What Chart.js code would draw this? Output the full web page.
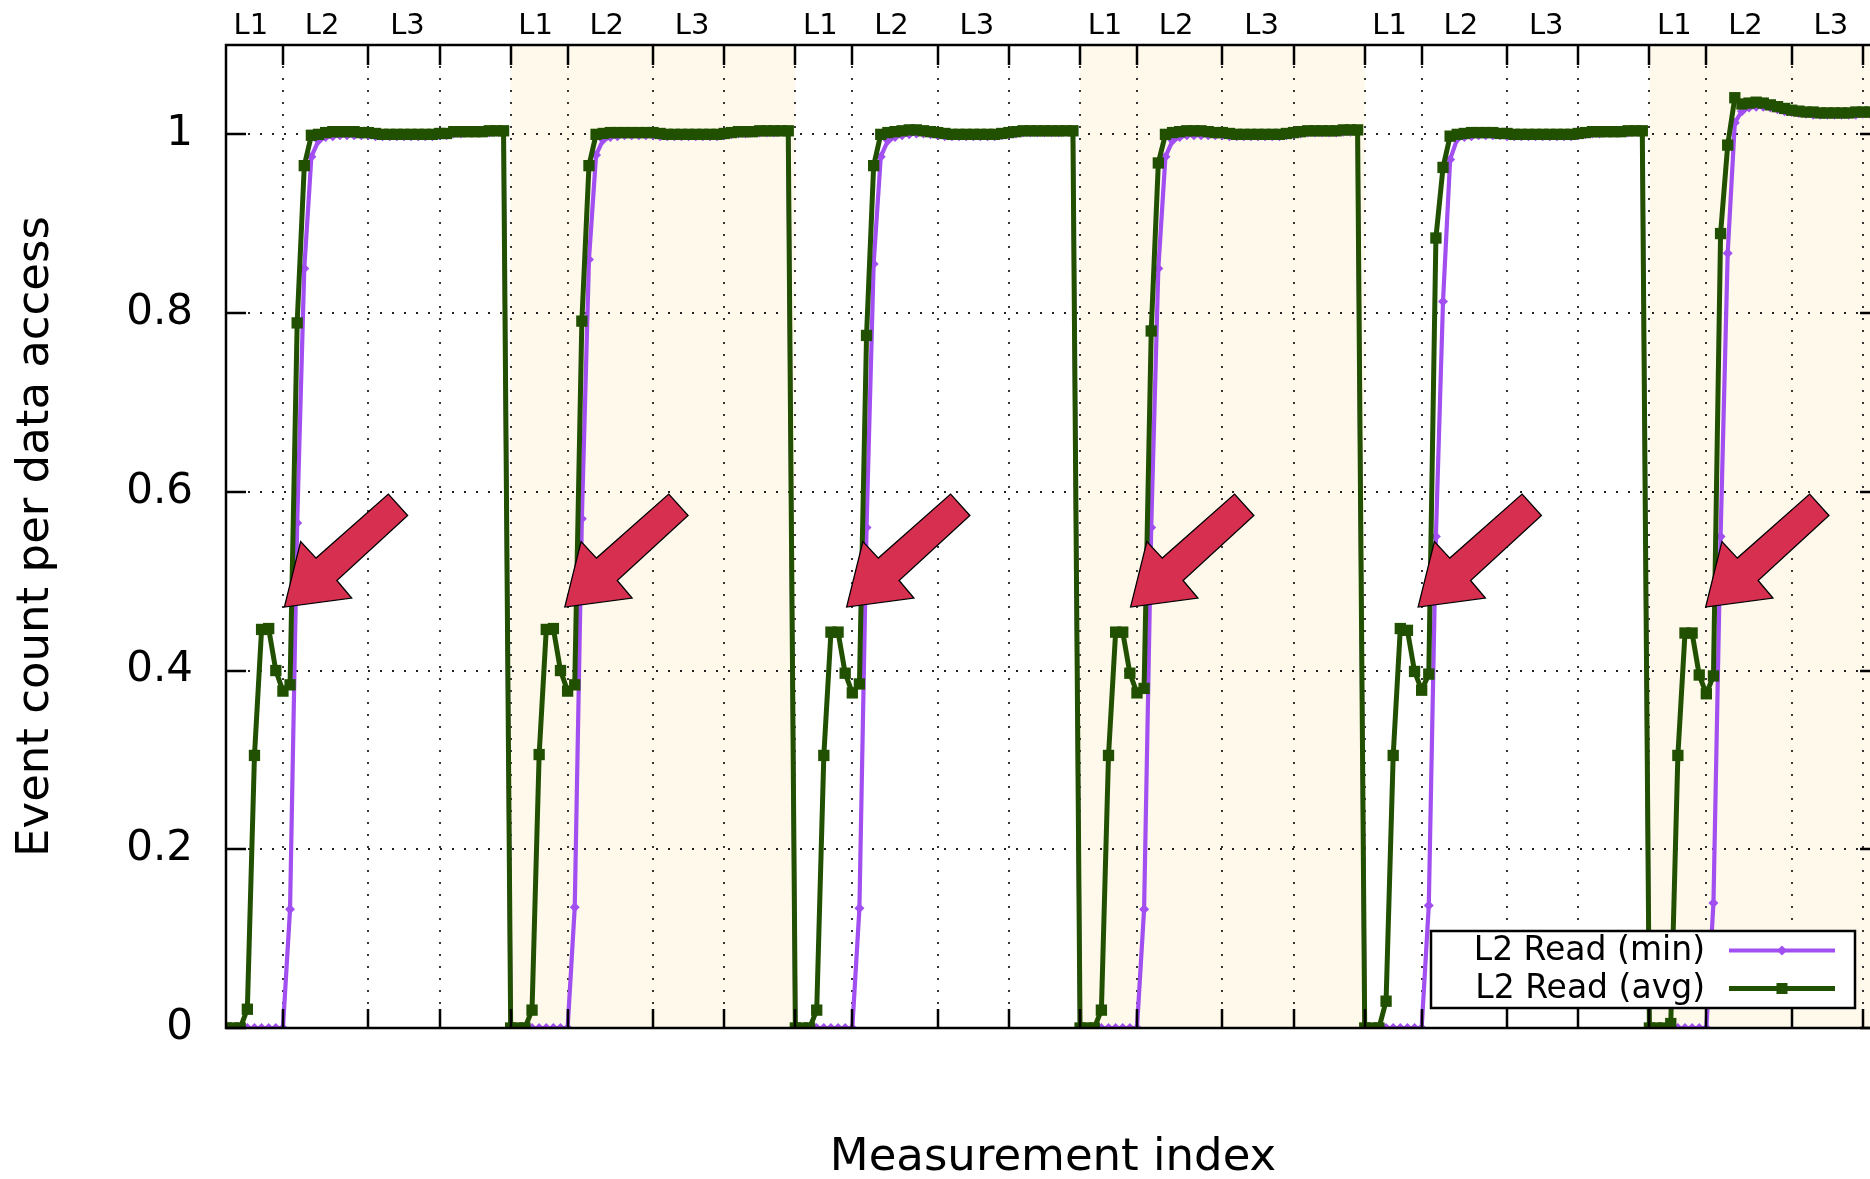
<!DOCTYPE html>
<html>
<head>
<meta charset="utf-8">
<script src="https://cdn.jsdelivr.net/npm/chart.js@4.4.1/dist/chart.umd.min.js"></script>
<style>
html, body { margin: 0; padding: 0; overflow: hidden; background: #fff; width: 1870px; height: 1179px; }
canvas { display: block; }
</style>
</head>
<body>
<canvas id="c" width="1900" height="1179" style="width:1900px;height:1179px"></canvas>
<script>
const seriesNames = ['L2 Read (min)', 'L2 Read (avg)'];

const avgSeg1 = [0, 0, 0, 0.021, 0.305, 0.446, 0.447, 0.400, 0.377, 0.384,
  0.789, 0.965, 0.999, 1.000, 1.002, 1.003, 1.003, 1.003, 1.003, 1.002,
  1.002, 1.001, 1.000, 1.000, 1.000, 1.000, 1.000, 1.000, 1.000, 1.000,
  1.001, 1.001, 1.003, 1.003, 1.003, 1.003, 1.003, 1.004, 1.004, 1.004];
const minSeg1 = [0, 0, 0, 0, 0, 0, 0, 0, 0, 0.133,
  0.565, 0.850, 0.975, 0.993, 0.997, 0.998, 0.999, 0.999, 0.999, 0.999,
  0.999, 0.998, 0.998, 0.998, 0.998, 0.998, 0.998, 0.998, 0.998, 0.998,
  0.999, 0.999, 1.001, 1.001, 1.002, 1.002, 1.002, 1.002, 1.003, 1.003];

const avgSeg2 = [0, 0, 0, 0.020, 0.306, 0.446, 0.447, 0.400, 0.377, 0.384,
  0.791, 0.965, 1.000, 1.001, 1.002, 1.002, 1.002, 1.002, 1.002, 1.002,
  1.002, 1.001, 1.000, 1.000, 1.000, 1.000, 1.000, 1.000, 1.000, 1.000,
  1.001, 1.002, 1.003, 1.003, 1.003, 1.004, 1.004, 1.004, 1.004, 1.004];
const minSeg2 = [0, 0, 0, 0, 0, 0, 0, 0, 0, 0.135,
  0.570, 0.860, 0.977, 0.994, 0.997, 0.998, 0.999, 0.999, 0.999, 0.999,
  0.999, 0.998, 0.998, 0.998, 0.998, 0.998, 0.998, 0.998, 0.998, 0.998,
  0.999, 1.000, 1.001, 1.001, 1.002, 1.002, 1.002, 1.002, 1.003, 1.003];

const avgSeg3 = [0, 0, 0, 0.020, 0.305, 0.443, 0.443, 0.397, 0.375, 0.385,
  0.775, 0.965, 1.000, 1.002, 1.003, 1.004, 1.005, 1.005, 1.004, 1.003,
  1.002, 1.001, 1.000, 1.000, 1.000, 1.000, 1.000, 1.000, 1.000, 1.001,
  1.002, 1.003, 1.004, 1.004, 1.004, 1.004, 1.004, 1.004, 1.004, 1.004];
const minSeg3 = [0, 0, 0, 0, 0, 0, 0, 0, 0, 0.134,
  0.560, 0.855, 0.975, 0.993, 0.997, 0.999, 1.000, 1.001, 1.001, 1.000,
  0.999, 0.998, 0.998, 0.998, 0.998, 0.998, 0.998, 0.998, 0.998, 0.999,
  1.000, 1.001, 1.002, 1.002, 1.002, 1.002, 1.002, 1.002, 1.003, 1.003];

const avgSeg4 = [0, 0, 0, 0.020, 0.305, 0.443, 0.443, 0.397, 0.375, 0.380,
  0.780, 0.968, 1.000, 1.002, 1.003, 1.004, 1.004, 1.004, 1.003, 1.002,
  1.002, 1.001, 1.000, 1.000, 1.000, 1.000, 1.000, 1.000, 1.000, 1.001,
  1.002, 1.003, 1.004, 1.004, 1.004, 1.004, 1.004, 1.005, 1.005, 1.005];
const minSeg4 = [0, 0, 0, 0, 0, 0, 0, 0, 0, 0.133,
  0.560, 0.850, 0.975, 0.993, 0.997, 0.999, 0.999, 0.999, 0.999, 0.999,
  0.999, 0.998, 0.998, 0.998, 0.998, 0.998, 0.998, 0.998, 0.998, 0.999,
  1.000, 1.001, 1.002, 1.002, 1.002, 1.002, 1.002, 1.003, 1.003, 1.003];

const avgSeg5 = [0, 0, 0, 0.030, 0.305, 0.447, 0.445, 0.399, 0.378, 0.396,
  0.884, 0.963, 0.998, 1.000, 1.001, 1.002, 1.002, 1.002, 1.002, 1.001,
  1.001, 1.000, 1.000, 1.000, 1.000, 1.000, 1.000, 1.000, 1.000, 1.000,
  1.001, 1.002, 1.003, 1.003, 1.003, 1.003, 1.003, 1.004, 1.004, 1.004];
const minSeg5 = [0, 0, 0, 0, 0, 0, 0, 0, 0, 0.137,
  0.550, 0.813, 0.972, 0.995, 0.997, 0.998, 0.999, 0.999, 0.999, 0.999,
  0.998, 0.998, 0.998, 0.998, 0.998, 0.998, 0.998, 0.998, 0.998, 0.998,
  0.999, 1.000, 1.001, 1.001, 1.002, 1.002, 1.002, 1.002, 1.003, 1.003];

const avgSeg6 = [0, 0, 0, 0.005, 0.305, 0.442, 0.442, 0.395, 0.374, 0.394,
  0.889, 0.988, 1.041, 1.034, 1.035, 1.036, 1.035, 1.033, 1.031, 1.029,
  1.027, 1.026, 1.025, 1.025, 1.024, 1.024, 1.024, 1.024, 1.024, 1.025,
  1.025, 1.025, 1.025];
const minSeg6 = [0, 0, 0, 0, 0, 0, 0, 0, 0, 0.140,
  0.550, 0.867, 1.013, 1.026, 1.030, 1.031, 1.031, 1.030, 1.028, 1.026,
  1.025, 1.024, 1.023, 1.022, 1.022, 1.022, 1.022, 1.022, 1.022, 1.022,
  1.023, 1.023, 1.023];

// axis / tick labels
const yTickValues = [0, 0.2, 0.4, 0.6, 0.8, 1];
const segmentStarts = [0, 40, 80, 120, 160, 200];
const segmentTickOffsets = [8, 20, 30, 40];
const levelLabels = ['L1', 'L2', 'L3'];
const levelLabelOffsets = [3.5, 13.5, 25.5];
const shadedSegments = [[40, 80], [120, 160], [200, 240]];
const arrowTipX = [8.2, 47.6, 87.2, 127.1, 167.5, 207.9];
const arrowTipY = 0.471;
const xMax = 232.4;
const yMax = 1.1;

// ---- build library structures ----
const avgAll = [].concat(avgSeg1, avgSeg2, avgSeg3, avgSeg4, avgSeg5, avgSeg6);
const minAll = [].concat(minSeg1, minSeg2, minSeg3, minSeg4, minSeg5, minSeg6);
const xTickValues = [];
segmentStarts.forEach(s => segmentTickOffsets.forEach(o => xTickValues.push(s + o)));
const topTickValues = [], topTickText = [];
segmentStarts.forEach(s => levelLabelOffsets.forEach((o, k) => { topTickValues.push(s + o); topTickText.push(levelLabels[k]); }));

const FONT = "'DejaVu Sans', 'Liberation Sans', sans-serif";
const PURPLE = '#a24ff2';
const GREEN = '#215000';
const SHADE = 'rgb(254, 249, 235)';
const ARROW = '#d62f50';

const backPlugin = {
  id: 'back',
  beforeDraw(chart) {
    const { ctx, chartArea: a, scales: { x, y } } = chart;
    ctx.save();
    ctx.fillStyle = '#fff';
    ctx.fillRect(0, 0, chart.width, chart.height);
    ctx.fillStyle = SHADE;
    shadedSegments.forEach(([s, e]) => {
      const x1 = Math.max(x.getPixelForValue(s), a.left);
      const x2 = Math.min(x.getPixelForValue(e), a.right);
      if (x2 > x1) ctx.fillRect(x1, a.top, x2 - x1, a.bottom - a.top);
    });
    ctx.strokeStyle = '#222';
    ctx.lineWidth = 1.8;
    ctx.setLineDash([2, 10]);
    xTickValues.forEach(v => {
      if (v >= xMax) return;
      const px = Math.round(x.getPixelForValue(v));
      ctx.beginPath(); ctx.moveTo(px, a.bottom); ctx.lineTo(px, a.top); ctx.stroke();
    });
    yTickValues.forEach(v => {
      if (v === 0) return;
      const py = Math.round(y.getPixelForValue(v));
      ctx.beginPath(); ctx.moveTo(a.left + 22, py); ctx.lineTo(a.right, py); ctx.stroke();
    });
    ctx.restore();
  },
  afterDatasetsDraw(chart) {
    const { ctx, chartArea: a, scales: { x, y } } = chart;
    ctx.save();
    // inward tick marks and border
    ctx.setLineDash([]);
    ctx.strokeStyle = '#000';
    ctx.lineWidth = 2.5;
    xTickValues.forEach(v => {
      if (v >= xMax) return;
      const px = Math.round(x.getPixelForValue(v));
      ctx.beginPath();
      ctx.moveTo(px, a.bottom); ctx.lineTo(px, a.bottom - 19);
      ctx.moveTo(px, a.top); ctx.lineTo(px, a.top + 20);
      ctx.stroke();
    });
    yTickValues.forEach(v => {
      const py = Math.round(y.getPixelForValue(v));
      ctx.beginPath();
      ctx.moveTo(a.left, py); ctx.lineTo(a.left + 20, py);
      ctx.moveTo(a.right, py); ctx.lineTo(a.right - 20, py);
      ctx.stroke();
    });
    ctx.lineWidth = 2.5;
    ctx.strokeRect(a.left, a.top, a.right - a.left, a.bottom - a.top);

    // arrows (annotation)
    const shape = [[0, 0], [16.3, -65.6], [31.7, -49], [104, -113], [123.3, -91.6], [52.5, -26.6], [67.3, -9]];
    arrowTipX.forEach(v => {
      const tx = x.getPixelForValue(v), ty = y.getPixelForValue(arrowTipY);
      ctx.beginPath();
      shape.forEach(([dx, dy], i) => i ? ctx.lineTo(tx + dx, ty + dy) : ctx.moveTo(tx + dx, ty + dy));
      ctx.closePath();
      ctx.fillStyle = ARROW;
      ctx.fill();
      ctx.strokeStyle = '#000';
      ctx.lineWidth = 1.3;
      ctx.stroke();
    });

    // legend box
    const bx1 = a.left + 1205, bx2 = a.right - 25, by2 = a.bottom - 20, by1 = by2 - 77;
    ctx.fillStyle = '#fff';
    ctx.fillRect(bx1, by1, bx2 - bx1, by2 - by1);
    ctx.strokeStyle = '#000';
    ctx.lineWidth = 2.5;
    ctx.strokeRect(bx1, by1, bx2 - bx1, by2 - by1);
    ctx.font = '33px ' + FONT;
    ctx.textAlign = 'right';
    ctx.textBaseline = 'middle';
    const rows = [by1 + 19.5, by1 + 57.5];
    const colors = [PURPLE, GREEN];
    rows.forEach((ry, k) => {
      ctx.fillStyle = '#000';
      ctx.fillText(seriesNames[k], bx1 + 274, ry + 1);
      ctx.strokeStyle = colors[k];
      ctx.lineWidth = k ? 5 : 4.2;
      ctx.beginPath(); ctx.moveTo(bx1 + 298, ry); ctx.lineTo(bx1 + 404, ry); ctx.stroke();
      const mx = bx1 + 351;
      ctx.fillStyle = colors[k];
      if (k) {
        ctx.fillRect(mx - 5.5, ry - 5.5, 11, 11);
      } else {
        ctx.beginPath(); ctx.moveTo(mx, ry - 5); ctx.lineTo(mx + 5, ry); ctx.lineTo(mx, ry + 5); ctx.lineTo(mx - 5, ry); ctx.closePath(); ctx.fill();
      }
    });
    ctx.restore();
  }
};

new Chart(document.getElementById('c'), {
  type: 'line',
  data: {
    datasets: [
      {
        label: seriesNames[0],
        data: minAll.map((v, i) => ({ x: i, y: v })),
        borderColor: PURPLE, backgroundColor: PURPLE,
        borderWidth: 4.2, borderJoinStyle: 'round',
        pointStyle: 'rectRot', pointRadius: 5, pointBorderWidth: 0,
        pointBackgroundColor: PURPLE,
        tension: 0, fill: false, order: 1
      },
      {
        label: seriesNames[1],
        data: avgAll.map((v, i) => ({ x: i, y: v })),
        borderColor: GREEN, backgroundColor: GREEN,
        borderWidth: 5, borderJoinStyle: 'round',
        pointStyle: 'rect', pointRadius: 8, pointBorderWidth: 0,
        pointBackgroundColor: GREEN,
        tension: 0, fill: false, order: 0
      }
    ]
  },
  options: {
    responsive: false,
    animation: false,
    devicePixelRatio: 1,
    layout: { padding: { left: 0, right: 20, top: 0, bottom: 0 } },
    plugins: { legend: { display: false }, tooltip: { enabled: false } },
    scales: {
      x: {
        type: 'linear', position: 'bottom', min: 0, max: xMax,
        afterBuildTicks: s => { s.ticks = xTickValues.filter(v => v <= xMax).map(v => ({ value: v })); },
        afterFit: s => { s.height = 151; s.paddingLeft = 0; s.paddingRight = 0; },
        grid: { display: false, drawTicks: false },
        border: { display: false },
        ticks: { display: false },
        title: { display: true, text: 'Measurement index', color: '#000',
                 font: { family: FONT, size: 45, lineHeight: 0.9 }, padding: 0 }
      },
      xTop: {
        type: 'linear', position: 'top', min: 0, max: xMax,
        afterBuildTicks: s => { s.ticks = topTickValues.map(v => ({ value: v })); },
        afterFit: s => { s.height = 45; s.paddingLeft = 0; s.paddingRight = 0; },
        grid: { display: false, drawTicks: false },
        border: { display: false },
        ticks: { autoSkip: false, maxRotation: 0, minRotation: 0, padding: 1.5, color: '#000',
                 font: { family: FONT, size: 29 },
                 callback: (v, i) => topTickText[i] }
      },
      y: {
        type: 'linear', position: 'left', min: 0, max: yMax,
        afterBuildTicks: s => { s.ticks = yTickValues.map(v => ({ value: v })); },
        afterFit: s => { s.width = 226; s.paddingTop = 0; s.paddingBottom = 0; },
        grid: { display: false, drawTicks: false },
        border: { display: false },
        ticks: { padding: 33, color: '#000', font: { family: FONT, size: 42 },
                 callback: v => String(+Number(v).toFixed(1)) },
        title: { display: true, text: 'Event count per data access', color: '#000',
                 font: { family: FONT, size: 45, lineHeight: 1.2 }, padding: { top: 9, bottom: 0 } }
      }
    }
  },
  plugins: [backPlugin]
});
</script>
</body>
</html>
